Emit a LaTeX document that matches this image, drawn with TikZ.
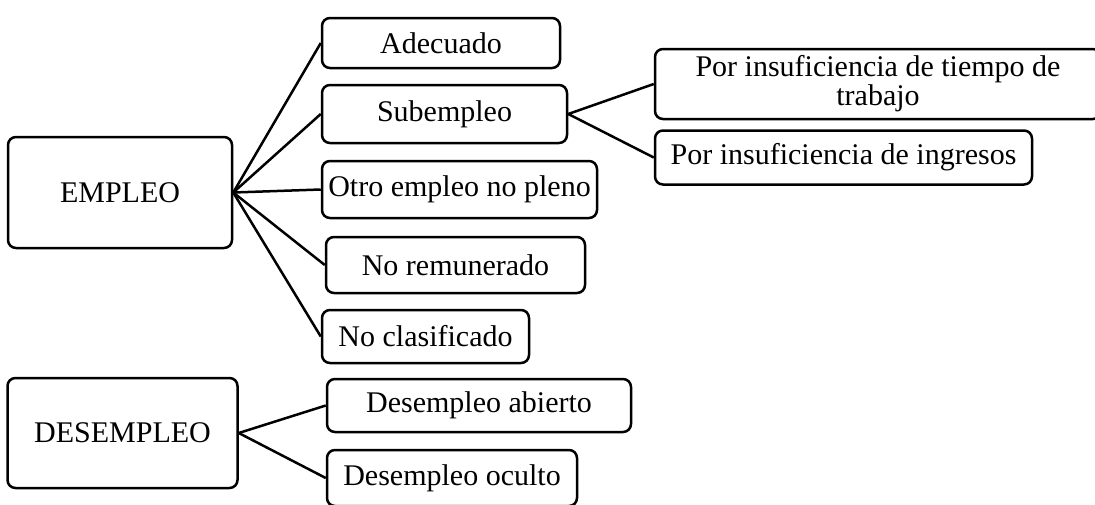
\documentclass[tikz,border=0pt]{standalone}
\usepackage{fontspec}
\setmainfont{Liberation Serif}
\begin{document}
\begin{tikzpicture}[x=0.5pt,y=-0.5pt,
  box/.style={draw, line width=1.25pt, rounded corners=4pt, align=center,
    inner sep=0pt, font=\fontsize{15}{14.5}\selectfont},
  link/.style={line width=1.25pt}]
\useasboundingbox (0,0) rectangle (1095,504);
% left column
\node[box, minimum width=112pt, minimum height=55.5pt] (emp) at (120,192.5) {EMPLEO};
\node[box, minimum width=115pt, minimum height=55pt] (des) at (122.5,433) {DESEMPLEO};
% employment categories
\node[box, minimum width=119pt, minimum height=25pt] (ade) at (441,43) {Adecuado};
\node[box, minimum width=122.5pt, minimum height=29pt] (sub) at (444.5,114) {Subempleo};
\node[box, minimum width=137.5pt, minimum height=28.5pt] (otro) at (459.5,189.5) {Otro empleo no pleno};
\node[box, minimum width=129.5pt, minimum height=28pt] (nrem) at (455.5,265) {No remunerado};
\node[box, minimum width=103.5pt, minimum height=26.5pt] (ncla) at (425.5,336.5) {No clasificado};
% unemployment categories
\node[box, minimum width=152pt, minimum height=26.5pt] (abi) at (479,405.5) {Desempleo abierto};
\node[box, minimum width=125pt, minimum height=28pt] (ocu) at (452,478) {Desempleo oculto};
% subempleo categories
\node[box, minimum width=223pt, minimum height=35pt] (tie) at (878,84) {Por insuficiencia de tiempo de\\trabajo};
\node[box, minimum width=188.5pt, minimum height=27pt] (ing) at (843.5,157.5) {Por insuficiencia de ingresos};
% connectors
\foreach \t in {ade,sub,otro,nrem,ncla}
  \draw[link] (emp.east) -- (\t.west);
\draw[link] (sub.east) -- (tie.west);
\draw[link] (sub.east) -- (ing.west);
\draw[link] (des.east) -- (abi.west);
\draw[link] (des.east) -- (ocu.west);
\end{tikzpicture}
\end{document}
